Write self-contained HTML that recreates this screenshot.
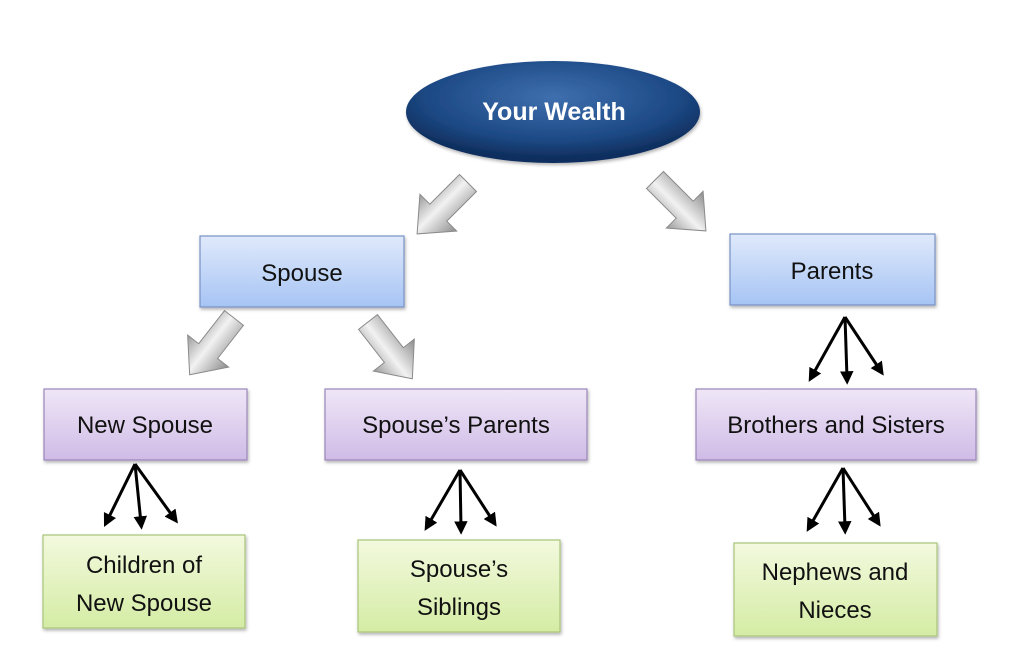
<!DOCTYPE html>
<html><head><meta charset="utf-8"><style>
html,body{margin:0;padding:0;background:#fff;width:1024px;height:666px;overflow:hidden}
text{font-family:"Liberation Sans",sans-serif;font-size:24px;fill:#111;text-anchor:middle}
</style></head><body>
<svg width="1024" height="666" viewBox="0 0 1024 666" xmlns="http://www.w3.org/2000/svg">
<defs>
<radialGradient id="eg" cx="50%" cy="35%" r="60%">
<stop offset="0" stop-color="#3f6fae"/><stop offset="0.7" stop-color="#1d4a86"/><stop offset="1" stop-color="#0f2f5e"/></radialGradient>
<linearGradient id="bl" x1="0" y1="0" x2="0" y2="1"><stop offset="0" stop-color="#dfe9fb"/><stop offset="1" stop-color="#a6c4f4"/></linearGradient>
<linearGradient id="pu" x1="0" y1="0" x2="0" y2="1"><stop offset="0" stop-color="#efe6f7"/><stop offset="1" stop-color="#cfbbe6"/></linearGradient>
<linearGradient id="gr" x1="0" y1="0" x2="0" y2="1"><stop offset="0" stop-color="#f3f9de"/><stop offset="1" stop-color="#d4eca4"/></linearGradient>
<linearGradient id="ga" x1="0" y1="0" x2="1" y2="0"><stop offset="0" stop-color="#9a9a9a"/><stop offset="0.45" stop-color="#f2f2f2"/><stop offset="1" stop-color="#8c8c8c"/></linearGradient>
<path id="fat" d="M-12,0 L12,0 L12,42 L26,42 L0,72 L-26,42 L-12,42 Z" fill="url(#ga)" stroke="#8a8a8a" stroke-width="1"/>
<marker id="ah" viewBox="0 0 10 10" refX="5" refY="5" markerWidth="4.5" markerHeight="4.5" orient="auto"><path d="M0,0 L10,5 L0,10 Z" fill="#000"/></marker>
<filter id="sh" x="-10%" y="-10%" width="130%" height="140%"><feDropShadow dx="1" dy="2" stdDeviation="1.5" flood-color="#000" flood-opacity="0.3"/></filter>
</defs>

<ellipse cx="553" cy="112" rx="147" ry="51" fill="url(#eg)" filter="url(#sh)"/>
<text x="554" y="120" style="fill:#fff;font-weight:bold;font-size:25px">Your Wealth</text>

<use href="#fat" transform="translate(468,183) rotate(45)"/>
<use href="#fat" transform="translate(655,180) rotate(-45)"/>
<use href="#fat" transform="translate(234,318) rotate(38)"/>
<use href="#fat" transform="translate(368,322) rotate(-38)"/>

<g stroke="#7891c4" stroke-width="1.2" filter="url(#sh)">
<rect x="200" y="236" width="204" height="71" fill="url(#bl)"/>
<rect x="730" y="234" width="205" height="71" fill="url(#bl)"/>
</g>
<g stroke="#9a86b8" stroke-width="1.2" filter="url(#sh)">
<rect x="44" y="389" width="203" height="71" fill="url(#pu)"/>
<rect x="325" y="389" width="262" height="71" fill="url(#pu)"/>
<rect x="696" y="389" width="280" height="71" fill="url(#pu)"/>
</g>
<g stroke="#a8c47a" stroke-width="1.2" filter="url(#sh)">
<rect x="43" y="535" width="202" height="93" fill="url(#gr)"/>
<rect x="358" y="540" width="202" height="92" fill="url(#gr)"/>
<rect x="734" y="543" width="203" height="93" fill="url(#gr)"/>
</g>

<text x="302" y="281">Spouse</text>
<text x="832" y="279">Parents</text>
<text x="145" y="433">New Spouse</text>
<text x="456" y="433">Spouse’s Parents</text>
<text x="836" y="433">Brothers and Sisters</text>
<text x="144" y="573">Children of</text>
<text x="144" y="611">New Spouse</text>
<text x="459" y="577">Spouse’s</text>
<text x="459" y="615">Siblings</text>
<text x="835" y="580">Nephews and</text>
<text x="835" y="618">Nieces</text>

<g stroke="#000" stroke-width="3" fill="none" marker-end="url(#ah)">
<path d="M135,464 L107,521"/><path d="M135,464 L141,523"/><path d="M135,464 L174,518"/>
<path d="M460,470 L428,525"/><path d="M460,470 L461,528"/><path d="M460,470 L493,521"/>
<path d="M845,317 L812,376"/><path d="M845,317 L847,378"/><path d="M845,317 L880,370"/>
<path d="M843,468 L810,526"/><path d="M843,468 L845,528"/><path d="M843,468 L877,521"/>
</g>
</svg>
</body></html>
